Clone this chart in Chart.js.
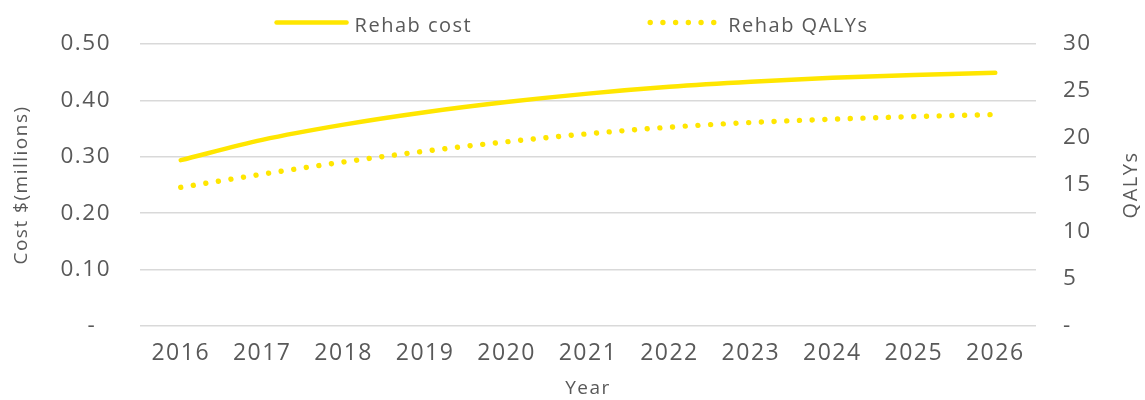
<!DOCTYPE html>
<html>
<head>
<meta charset="utf-8">
<script src="https://cdn.jsdelivr.net/npm/chart.js@4.4.1/dist/chart.umd.min.js"></script>
<style>
  html, body { margin: 0; padding: 0; background: #ffffff; }
  canvas { display: block; }
</style>
</head>
<body>
<canvas id="chart" width="1145" height="400"></canvas>
<script>
// Projection years and the two rehab series
const years = ['2016', '2017', '2018', '2019', '2020', '2021', '2022', '2023', '2024', '2025', '2026'];
const rehabCost = [0.294, 0.330, 0.357, 0.379, 0.397, 0.412, 0.424, 0.433, 0.440, 0.445, 0.449]; // $ millions
const rehabQalys = [14.75, 16.15, 17.45, 18.6, 19.6, 20.45, 21.15, 21.65, 22.0, 22.28, 22.5];

// Axis ranges and tick steps
const costAxis = { min: 0, max: 0.5, step: 0.1 };
const qalyAxis = { min: 0, max: 30, step: 5 };

const FONT = "'Open Sans', 'DejaVu Sans', sans-serif";
const TEXT = '#595959';
const YELLOW = '#FFE600';
const TRACKING = '1.5px';

Chart.defaults.font.family = FONT;
Chart.defaults.color = TEXT;

// Slightly open letter spacing for all canvas text
const tracking = {
  id: 'tracking',
  beforeUpdate(chart) { chart.ctx.letterSpacing = TRACKING; },
  beforeDraw(chart) { chart.ctx.letterSpacing = TRACKING; }
};

// Legend row: a line sample in each series' own stroke style, then its label
const lineLegend = {
  id: 'lineLegend',
  afterDraw(chart, args, opts) {
    const ctx = chart.ctx;
    ctx.save();
    ctx.letterSpacing = TRACKING;
    ctx.font = opts.fontSize + 'px ' + FONT;
    const items = chart.data.datasets.map(ds => ({
      text: ds.label,
      color: ds.borderColor,
      width: ds.borderWidth,
      dash: ds.borderDash || [],
      cap: ds.borderCapStyle || 'butt'
    }));
    const widths = items.map(it => opts.sampleWidth + opts.textGap + ctx.measureText(it.text).width);
    const total = widths.reduce((a, b) => a + b, 0) + opts.itemGap * (items.length - 1);
    let x = (chart.width - total) / 2;
    items.forEach((it, i) => {
      ctx.beginPath();
      ctx.setLineDash(it.dash);
      ctx.lineCap = it.cap;
      ctx.lineWidth = it.width;
      ctx.strokeStyle = it.color;
      ctx.moveTo(x, opts.lineY);
      ctx.lineTo(x + opts.sampleWidth, opts.lineY);
      ctx.stroke();
      ctx.setLineDash([]);
      ctx.fillStyle = opts.color;
      ctx.textAlign = 'left';
      ctx.textBaseline = 'alphabetic';
      ctx.fillText(it.text, x + opts.sampleWidth + opts.textGap, opts.textY);
      x += widths[i] + opts.itemGap;
    });
    ctx.restore();
  }
};

// Secondary axis title, reading bottom to top like the primary one
const sideTitle = {
  id: 'sideTitle',
  afterDraw(chart, args, opts) {
    const scale = chart.scales[opts.scaleId];
    const area = chart.chartArea;
    const ctx = chart.ctx;
    ctx.save();
    ctx.letterSpacing = TRACKING;
    ctx.font = opts.fontSize + 'px ' + FONT;
    ctx.fillStyle = opts.color;
    ctx.translate(scale.right - opts.offset, (area.top + area.bottom) / 2);
    ctx.rotate(-Math.PI / 2);
    ctx.textAlign = 'center';
    ctx.textBaseline = 'middle';
    ctx.fillText(opts.text, 0, 0);
    ctx.restore();
  }
};

new Chart(document.getElementById('chart'), {
  type: 'line',
  data: {
    labels: years,
    datasets: [
      {
        label: 'Rehab cost',
        data: rehabCost,
        yAxisID: 'yCost',
        borderColor: YELLOW,
        backgroundColor: YELLOW,
        borderWidth: 4.5,
        borderCapStyle: 'round',
        pointRadius: 0,
        pointHoverRadius: 0,
        cubicInterpolationMode: 'monotone',
        fill: false
      },
      {
        label: 'Rehab QALYs',
        data: rehabQalys,
        yAxisID: 'yQaly',
        borderColor: YELLOW,
        backgroundColor: YELLOW,
        borderWidth: 5.4,
        borderDash: [0.01, 12.7],
        borderCapStyle: 'round',
        pointRadius: 0,
        pointHoverRadius: 0,
        cubicInterpolationMode: 'monotone',
        fill: false
      }
    ]
  },
  options: {
    responsive: false,
    animation: false,
    layout: { padding: { top: 44, left: 0, right: 0, bottom: 0 } },
    plugins: {
      legend: { display: false },
      tooltip: { enabled: false },
      lineLegend: {
        fontSize: 20, color: TEXT, sampleWidth: 70, textGap: 8, itemGap: 178,
        lineY: 22.5, textY: 32
      },
      sideTitle: { scaleId: 'yQaly', text: 'QALYs', fontSize: 20, color: TEXT, offset: 14 }
    },
    scales: {
      x: {
        offset: true,
        grid: { display: false, drawTicks: false },
        border: { display: false },
        ticks: { font: { size: 23 }, color: TEXT, padding: 14, maxRotation: 0, autoSkip: false },
        title: { display: true, text: 'Year', font: { size: 19 }, color: TEXT, padding: { top: 0, bottom: 0 } },
        afterFit(scale) { scale.height = 74; }
      },
      yCost: {
        position: 'left',
        min: costAxis.min,
        max: costAxis.max,
        grid: { color: '#d9d9d9', lineWidth: 1.5, drawTicks: false },
        border: { display: false },
        ticks: {
          stepSize: costAxis.step,
          font: { size: 22.5 },
          color: TEXT,
          padding: 29,
          callback: v => (v === 0 ? '-  ' : Number(v).toFixed(2))
        },
        title: { display: true, text: 'Cost $(millions)', font: { size: 19 }, color: TEXT, padding: { top: 10, bottom: 0 } },
        afterFit(scale) { scale.width = 140; }
      },
      yQaly: {
        position: 'right',
        min: qalyAxis.min,
        max: qalyAxis.max,
        grid: { display: false, drawTicks: false },
        border: { display: false },
        ticks: {
          stepSize: qalyAxis.step,
          font: { size: 22.5 },
          color: TEXT,
          padding: 27,
          callback: v => (v === 0 ? '-' : String(v))
        },
        afterFit(scale) { scale.width = 109; }
      }
    }
  },
  plugins: [tracking, lineLegend, sideTitle]
});
</script>
</body>
</html>
